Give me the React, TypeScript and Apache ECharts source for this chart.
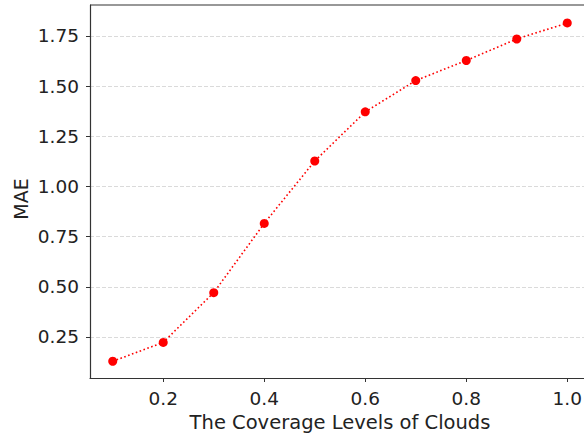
import React, { useEffect, useRef } from "react";
import * as echarts from "echarts";

const coverage = [0.1, 0.2, 0.3, 0.4, 0.5, 0.6, 0.7, 0.8, 0.9, 1.0];
const mae = [0.129, 0.223, 0.471, 0.816, 1.127, 1.372, 1.528, 1.628, 1.735, 1.815];
const xTicks = [0.2, 0.4, 0.6, 0.8, 1.0];
const yTicks = [0.25, 0.5, 0.75, 1.0, 1.25, 1.5, 1.75];

export default function App() {
  const ref = useRef<HTMLDivElement>(null);
  useEffect(() => {
    if (!ref.current) return;
    const chart = echarts.init(ref.current, null, { renderer: "svg" });
    const font = "DejaVu Sans";
    chart.setOption({
      animation: false,
      backgroundColor: "#fff",
      grid: {
        left: 90,
        top: 5,
        width: 500,
        height: 373,
        containLabel: false,
        outerBoundsMode: "none",
      },
      xAxis: {
        type: "value",
        min: 0.055,
        max: 1.045,
        name: "The Coverage Levels of Clouds",
        nameLocation: "middle",
        nameGap: 33,
        nameTextStyle: { fontFamily: font, fontSize: 19.5, color: "#222" },
        axisLine: { show: true, onZero: false, lineStyle: { color: "#333", width: 1.2 } },
        axisTick: { show: true, customValues: xTicks, length: 4, lineStyle: { color: "#333", width: 1 } },
        axisLabel: {
          customValues: xTicks,
          margin: 11,
          fontFamily: font,
          fontSize: 18.5,
          color: "#222",
          formatter: (v: number) => v.toFixed(1),
        },
        splitLine: { show: false },
      },
      yAxis: {
        type: "value",
        min: 0.0455,
        max: 1.9045,
        axisLine: { show: true, onZero: false, lineStyle: { color: "#333", width: 1.2 } },
        axisTick: { show: true, customValues: yTicks, length: 4, lineStyle: { color: "#333", width: 1 } },
        axisLabel: {
          customValues: yTicks,
          margin: 11,
          fontFamily: font,
          fontSize: 18.5,
          color: "#222",
          formatter: (v: number) => v.toFixed(2),
        },
        splitLine: { show: true, lineStyle: { color: "#d0d0d0", type: [4, 2], width: 0.8 } },
      },
      series: [
        {
          type: "line",
          data: coverage.map((x, i) => [x, mae[i]]),
          symbol: "circle",
          symbolSize: 9,
          itemStyle: { color: "#ff0000" },
          lineStyle: { color: "#ff0000", width: 1.6, type: [1.6, 2.5] },
          z: 3,
        },
      ],
      graphic: [
        {
          type: "line",
          shape: { x1: 90, y1: 5, x2: 600, y2: 5 },
          style: { stroke: "#333", lineWidth: 1.2 },
        },
        {
          type: "text",
          x: 21,
          y: 199,
          rotation: Math.PI / 2,
          style: {
            text: "MAE",
            fontFamily: font,
            fontSize: 19,
            fill: "#222",
            align: "center",
            verticalAlign: "middle",
          },
        },
      ],
    });
    return () => chart.dispose();
  }, []);
  return (
    <div
      ref={ref}
      style={{ position: "fixed", left: 0, top: 0, width: 600, height: 433 }}
    />
  );
}
